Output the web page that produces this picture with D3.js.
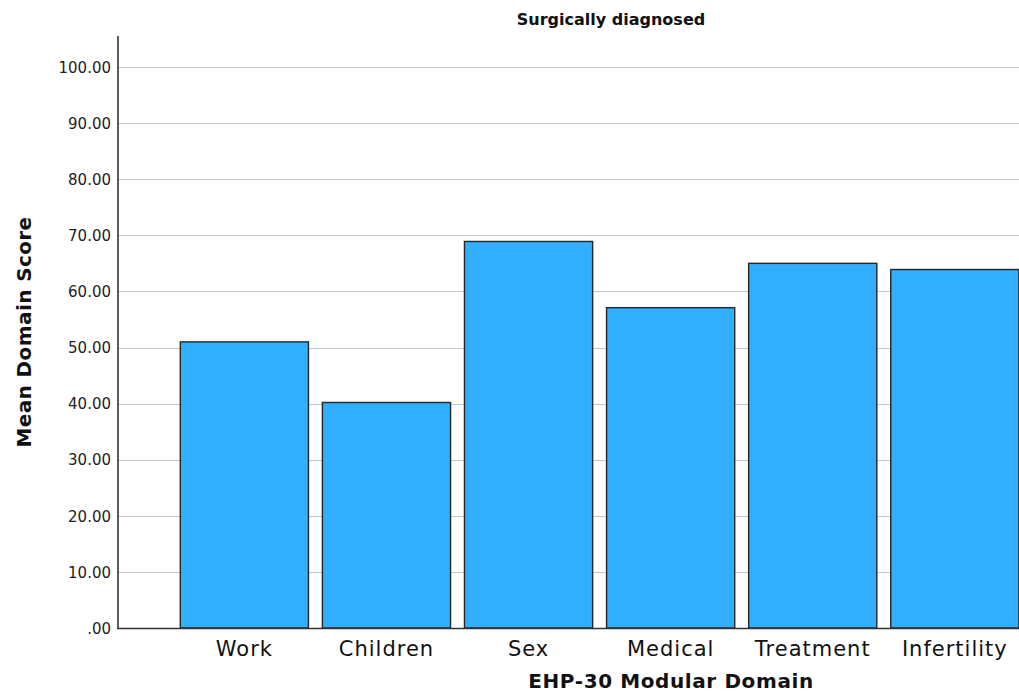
<!DOCTYPE html>
<html>
<head>
<meta charset="utf-8">
<script src="https://cdn.jsdelivr.net/npm/d3@7"></script>
<style>
  html, body { margin: 0; padding: 0; background: #fff; }
  svg { display: block; }
</style>
</head>
<body>
<script>
const categories = ["Work", "Children", "Sex", "Medical", "Treatment", "Infertility"];
const meanScores = [51.0, 40.2, 68.9, 57.1, 65.0, 63.9];
const yTicks = [0, 10, 20, 30, 40, 50, 60, 70, 80, 90, 100];
const chartTitle = "Surgically diagnosed";
const xTitle = "EHP-30 Modular Domain";
const yTitle = "Mean Domain Score";

const W = 1019, H = 697;
const svg = d3.select("body").append("svg").attr("width", W).attr("height", H);

const axisX = 118, plotRight = 1019, y0px = 628, y100px = 67, axisTop = 36;

const x = d3.scaleBand().domain(categories).range([173.2, 1026]).paddingInner(0.098).paddingOuter(0.05);
const y = d3.scaleLinear().domain([0, 100]).range([y0px, y100px]);

// gridlines
svg.append("g").selectAll("line").data(yTicks.filter(d => d > 0)).join("line")
  .attr("x1", axisX).attr("x2", plotRight)
  .attr("y1", d => Math.round(y(d)) + 0.5).attr("y2", d => Math.round(y(d)) + 0.5)
  .attr("stroke", "#c6c6c6").attr("stroke-width", 1.2);

// bars
svg.append("g").selectAll("rect").data(categories).join("rect")
  .attr("x", d => x(d))
  .attr("y", (d, i) => y(meanScores[i]))
  .attr("width", x.bandwidth())
  .attr("height", (d, i) => y(0) - y(meanScores[i]))
  .attr("fill", "#31aefe")
  .attr("stroke", "#262626").attr("stroke-width", 1.4);

// y axis
const yAxis = d3.axisLeft(y).tickValues(yTicks).tickSize(0).tickPadding(7)
  .tickFormat(d => d === 0 ? ".00" : d3.format(".2f")(d));
const gy = svg.append("g").attr("transform", `translate(${axisX},0)`).call(yAxis);
gy.select(".domain").remove();
gy.selectAll("text").attr("font-family", "DejaVu Sans").attr("font-size", 15)
  .attr("fill", "#222").attr("dy", "0.35em");
svg.append("line").attr("x1", axisX).attr("x2", axisX).attr("y1", axisTop).attr("y2", y0px + 1)
  .attr("stroke", "#333").attr("stroke-width", 1.6);

// x axis
const xAxis = d3.axisBottom(x).tickSize(0).tickPadding(13);
const gx = svg.append("g").attr("transform", `translate(0,${y0px})`).call(xAxis);
gx.select(".domain").remove();
gx.selectAll("text").attr("font-family", "DejaVu Sans").attr("font-size", 21)
  .attr("letter-spacing", "1px").attr("fill", "#111");
svg.append("line").attr("x1", axisX - 1).attr("x2", plotRight).attr("y1", y0px + 0.5).attr("y2", y0px + 0.5)
  .attr("stroke", "#333").attr("stroke-width", 1.6);

// titles
svg.append("text").attr("x", 611).attr("y", 25).attr("text-anchor", "middle")
  .attr("font-family", "DejaVu Sans").attr("font-weight", "bold").attr("font-size", 16)
  .attr("fill", "#111").text(chartTitle);

svg.append("text").attr("x", 671).attr("y", 688).attr("text-anchor", "middle")
  .attr("font-family", "DejaVu Sans").attr("font-weight", "bold").attr("font-size", 20)
  .attr("letter-spacing", "0.6px").attr("fill", "#111").text(xTitle);

svg.append("text").attr("transform", "translate(31,332) rotate(-90)").attr("text-anchor", "middle")
  .attr("font-family", "DejaVu Sans").attr("font-weight", "bold").attr("font-size", 20)
  .attr("letter-spacing", "0.4px").attr("fill", "#111").text(yTitle);
</script>
</body>
</html>
